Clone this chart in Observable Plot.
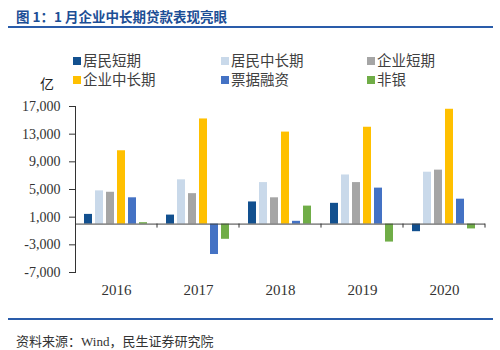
<!DOCTYPE html>
<html>
<head>
<meta charset="utf-8">
<script src="https://cdn.jsdelivr.net/npm/d3@7"></script>
<script src="https://cdn.jsdelivr.net/npm/@observablehq/plot@0.6"></script>
<style>
  html, body { margin: 0; padding: 0; background: #fff; }
  #wrap { position: relative; width: 500px; height: 350px; overflow: hidden; font-family: "Noto Sans CJK SC", "Noto Sans", sans-serif; }
  .title { position: absolute; left: 16px; top: 6px; font-size: 13.5px; font-weight: bold; color: #1c4e95; white-space: nowrap; }
  .rule { position: absolute; left: 8px; width: 485px; height: 2px; background: #2a5caa; }
  .unit { position: absolute; left: 40px; top: 73px; font-size: 14px; color: #222; }
  .leg { position: absolute; font-size: 14.5px; color: #404040; white-space: nowrap; line-height: 18px; }
  .leg i { display: inline-block; width: 8px; height: 8px; margin-right: 2px; vertical-align: 1px; }
  .src { position: absolute; left: 16px; top: 331px; font-size: 13px; color: #333; white-space: nowrap; }
  #chart { position: absolute; left: 0; top: 96px; }
</style>
</head>
<body>
<div id="wrap">
  <div class="title">图 1：1 月企业中长期贷款表现亮眼</div>
  <div class="rule" style="top:26px"></div>
  <div class="unit">亿</div>
  <div id="legend"></div>
  <div id="chart"></div>
  <div class="rule" style="top:318px"></div>
  <div class="src">资料来源：<span style="font-family:'Liberation Serif',serif">Wind</span>，民生证券研究院</div>
</div>
<script>
const years = ["2016", "2017", "2018", "2019", "2020"];
const series = ["居民短期", "居民中长期", "企业短期", "企业中长期", "票据融资", "非银"];
const colors = ["#12508f", "#c9d9ea", "#a5a5a5", "#ffc000", "#4472c4", "#70ad47"];
const residentShort = [1400, 1300, 3200, 3000, -1100];
const residentLong = [4800, 6400, 6000, 7100, 7500];
const corpShort = [4600, 4400, 3800, 6000, 7800];
const corpLong = [10600, 15200, 13300, 14000, 16600];
const billFinancing = [3800, -4400, 400, 5200, 3600];
const nonBank = [200, -2200, 2600, -2600, -700];
const yTicks = [-7000, -3000, 1000, 5000, 9000, 13000, 17000];

const seriesValues = [residentShort, residentLong, corpShort, corpLong, billFinancing, nonBank];
const data = years.flatMap((yr, i) => series.map((s, j) => ({year: yr, series: s, value: seriesValues[j][i]})));

// legend (3 columns x 2 rows)
const legPos = [[73, 51], [221, 51], [367, 51], [73, 70], [221, 70], [367, 70]];
const legend = document.getElementById("legend");
series.forEach((s, j) => {
  const d = document.createElement("div");
  d.className = "leg";
  d.style.left = legPos[j][0] + "px";
  d.style.top = legPos[j][1] + "px";
  d.innerHTML = `<i style="background:${colors[j]}"></i>${s}`;
  legend.appendChild(d);
});

const plot = Plot.plot({
  width: 500,
  height: 210,
  marginLeft: 74,
  marginRight: 14,
  marginTop: 10,
  marginBottom: 34,
  style: {fontFamily: "'Liberation Serif', serif", fontSize: "14px", color: "#333", background: "transparent"},
  fx: {domain: years, padding: 0, label: null},
  x: {domain: series, paddingInner: 0.25, paddingOuter: 0.85, axis: null},
  y: {domain: [-7000, 17000], label: null},
  color: {domain: series, range: colors},
  marks: [
    Plot.barY(data, {fx: "year", x: "series", y: "value", fill: "series"}),
    Plot.ruleY([0], {stroke: "#404040"}),
    Plot.axisY({ticks: yTicks, tickSize: 6, tickPadding: 9, tickFormat: d => d.toLocaleString("en-US"), fontSize: 14, label: null}),
    Plot.axisFx({anchor: "bottom", tickSize: 0, tickPadding: 12, fontSize: 15, label: null}),
    Plot.frame({anchor: "left", facetAnchor: "left", stroke: "#333"})
  ]
});
document.getElementById("chart").appendChild(plot);

// category boundary ticks on the zero line, from the library's scales
const fx = plot.scale("fx");
const ys = plot.scale("y");
const y0 = ys.apply(0);
const g = d3.select(plot).append("g").attr("stroke", "#333");
years.forEach(yr => {
  const xr = fx.apply(yr) + fx.bandwidth;
  g.append("line").attr("x1", xr).attr("x2", xr).attr("y1", y0).attr("y2", y0 + 4);
});
</script>
</body>
</html>
